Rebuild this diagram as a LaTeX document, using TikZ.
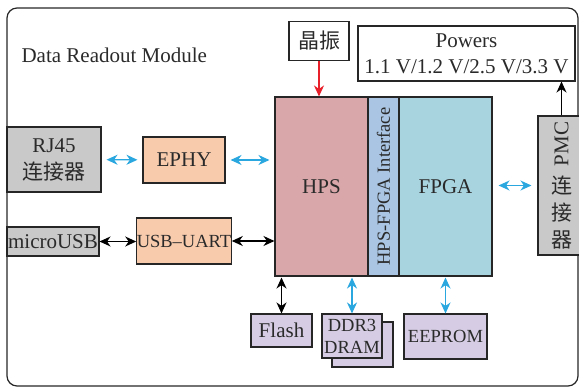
\documentclass[tikz,border=0pt]{standalone}
\usepackage{fontspec}
\setmainfont{Liberation Serif}
\newfontfamily\cjk{Noto Sans CJK SC}
\usepackage{tikz}
\usetikzlibrary{positioning, arrows.meta, calc}
\usepackage{xcolor}

\definecolor{hpsfill}{HTML}{D9A6A9}
\definecolor{intffill}{HTML}{A9C5E3}
\definecolor{fpgafill}{HTML}{A7D4DF}
\definecolor{phyfill}{HTML}{F8CBAD}
\definecolor{portfill}{HTML}{C9C9C9}
\definecolor{memfill}{HTML}{D6CDE4}
\definecolor{busblue}{HTML}{2AA7DF}
\definecolor{clkred}{HTML}{E8202A}
\definecolor{txt}{HTML}{2A2A2A}

\begin{document}
\begin{tikzpicture}[
    x=1pt, y=-1pt,
    box/.style={draw=black!85, line width=1.1pt, inner sep=0pt, align=center,
        text=txt, font=\fontsize{21}{27}\selectfont},
    small/.style={font=\fontsize{18.5}{22}\selectfont},
    bus/.style={{Stealth[length=11pt,width=10pt,inset=3.5pt]}-{Stealth[length=11pt,width=10pt,inset=3.5pt]},
        line width=1.3pt, draw=busblue},
    wire/.style={{Stealth[length=11pt,width=10pt,inset=3.5pt]}-{Stealth[length=11pt,width=10pt,inset=3.5pt]},
        line width=1.3pt, draw=black},
    feed/.style={-{Stealth[length=11pt,width=10pt,inset=3.5pt]}, line width=1.3pt}
]
    \useasboundingbox (0,0) rectangle (579,387);

    % Module frame and title
    \draw[rounded corners=10pt, line width=1.2pt, draw=black!85] (7,8) rectangle (578,386);
    \node[anchor=west, text=txt, font=\fontsize{21}{24}\selectfont] (title) at (18,55) {Data Readout Module};

    % Clock and power
    \node[box, minimum width=60, minimum height=39] (xtal) at (319,41) {\cjk 晶振};
    \node[box, minimum width=217, minimum height=55, font=\fontsize{21}{26}\selectfont] (power) at (466.5,53.5)
        {Powers\\1.1 V/1.2 V/2.5 V/3.3 V};

    % SoC: HPS, bridge and FPGA fabric
    \node[box, fill=hpsfill, minimum width=93, minimum height=179] (hps) at (321.5,186.5) {HPS};
    \node[box, fill=intffill, rotate=90, minimum width=179, minimum height=31,
        font=\fontsize{18.5}{20}\selectfont] (intf) at (383.5,186.5) {HPS-FPGA Interface};
    \node[box, fill=fpgafill, minimum width=93, minimum height=179] (fpga) at (445.5,186.5) {FPGA};

    % PMC connector
    \node[box, fill=portfill, minimum width=47, minimum height=139] (pmc) at (561.5,185.5)
        {\rotatebox{90}{PMC}\\{\cjk 连}\\{\cjk 接}\\{\cjk 器}};

    % Ethernet and USB path
    \node[box, fill=portfill, minimum width=94, minimum height=65] (rj45) at (54,159.5) {RJ45\\{\cjk 连接器}};
    \node[box, fill=phyfill, minimum width=82, minimum height=46] (ephy) at (184,160) {EPHY};
    \node[box, fill=portfill, minimum width=92, minimum height=29] (musb) at (53,241.5) {microUSB};
    \node[box, small, fill=phyfill, minimum width=94, minimum height=46] (uart) at (184,241) {USB--UART};

    % Memories
    \node[box, fill=memfill, minimum width=61, minimum height=33] (flash) at (281.5,330.5) {Flash};
    \node[box, fill=memfill, minimum width=61, minimum height=45] (ddrbk) at (362.5,344.5) {};
    \node[box, small, fill=memfill, minimum width=60, minimum height=44] (ddr) at (352,336) {DDR3\\DRAM};
    \node[box, small, fill=memfill, minimum width=83, minimum height=45] (eeprom) at (445.5,336.5) {EEPROM};

    % Connections
    \draw[feed, draw=clkred] (xtal) -- (hps.north -| xtal.south);
    \draw[feed, draw=black] (pmc.north) -- (pmc.north |- power.south);
    \draw[bus, shorten <=5pt, shorten >=5pt] (rj45) -- (ephy);
    \draw[bus, shorten <=5pt, shorten >=5pt] (ephy.east) -- (ephy.east -| hps.west);
    \draw[bus, shorten <=6pt, shorten >=6pt] (fpga.east |- pmc.west) -- (pmc.west);
    \draw[wire] (musb.east) -- (musb.east -| uart.west);
    \draw[wire] (uart.east) -- (uart.east -| hps.west);
    \draw[wire, shorten <=1pt] (hps.south -| flash.north) -- (flash.north);
    \draw[bus, shorten <=1pt] (hps.south -| ddr.north) -- (ddr.north);
    \draw[bus, shorten <=1pt] (fpga.south -| eeprom.north) -- (eeprom.north);
\end{tikzpicture}
\end{document}
